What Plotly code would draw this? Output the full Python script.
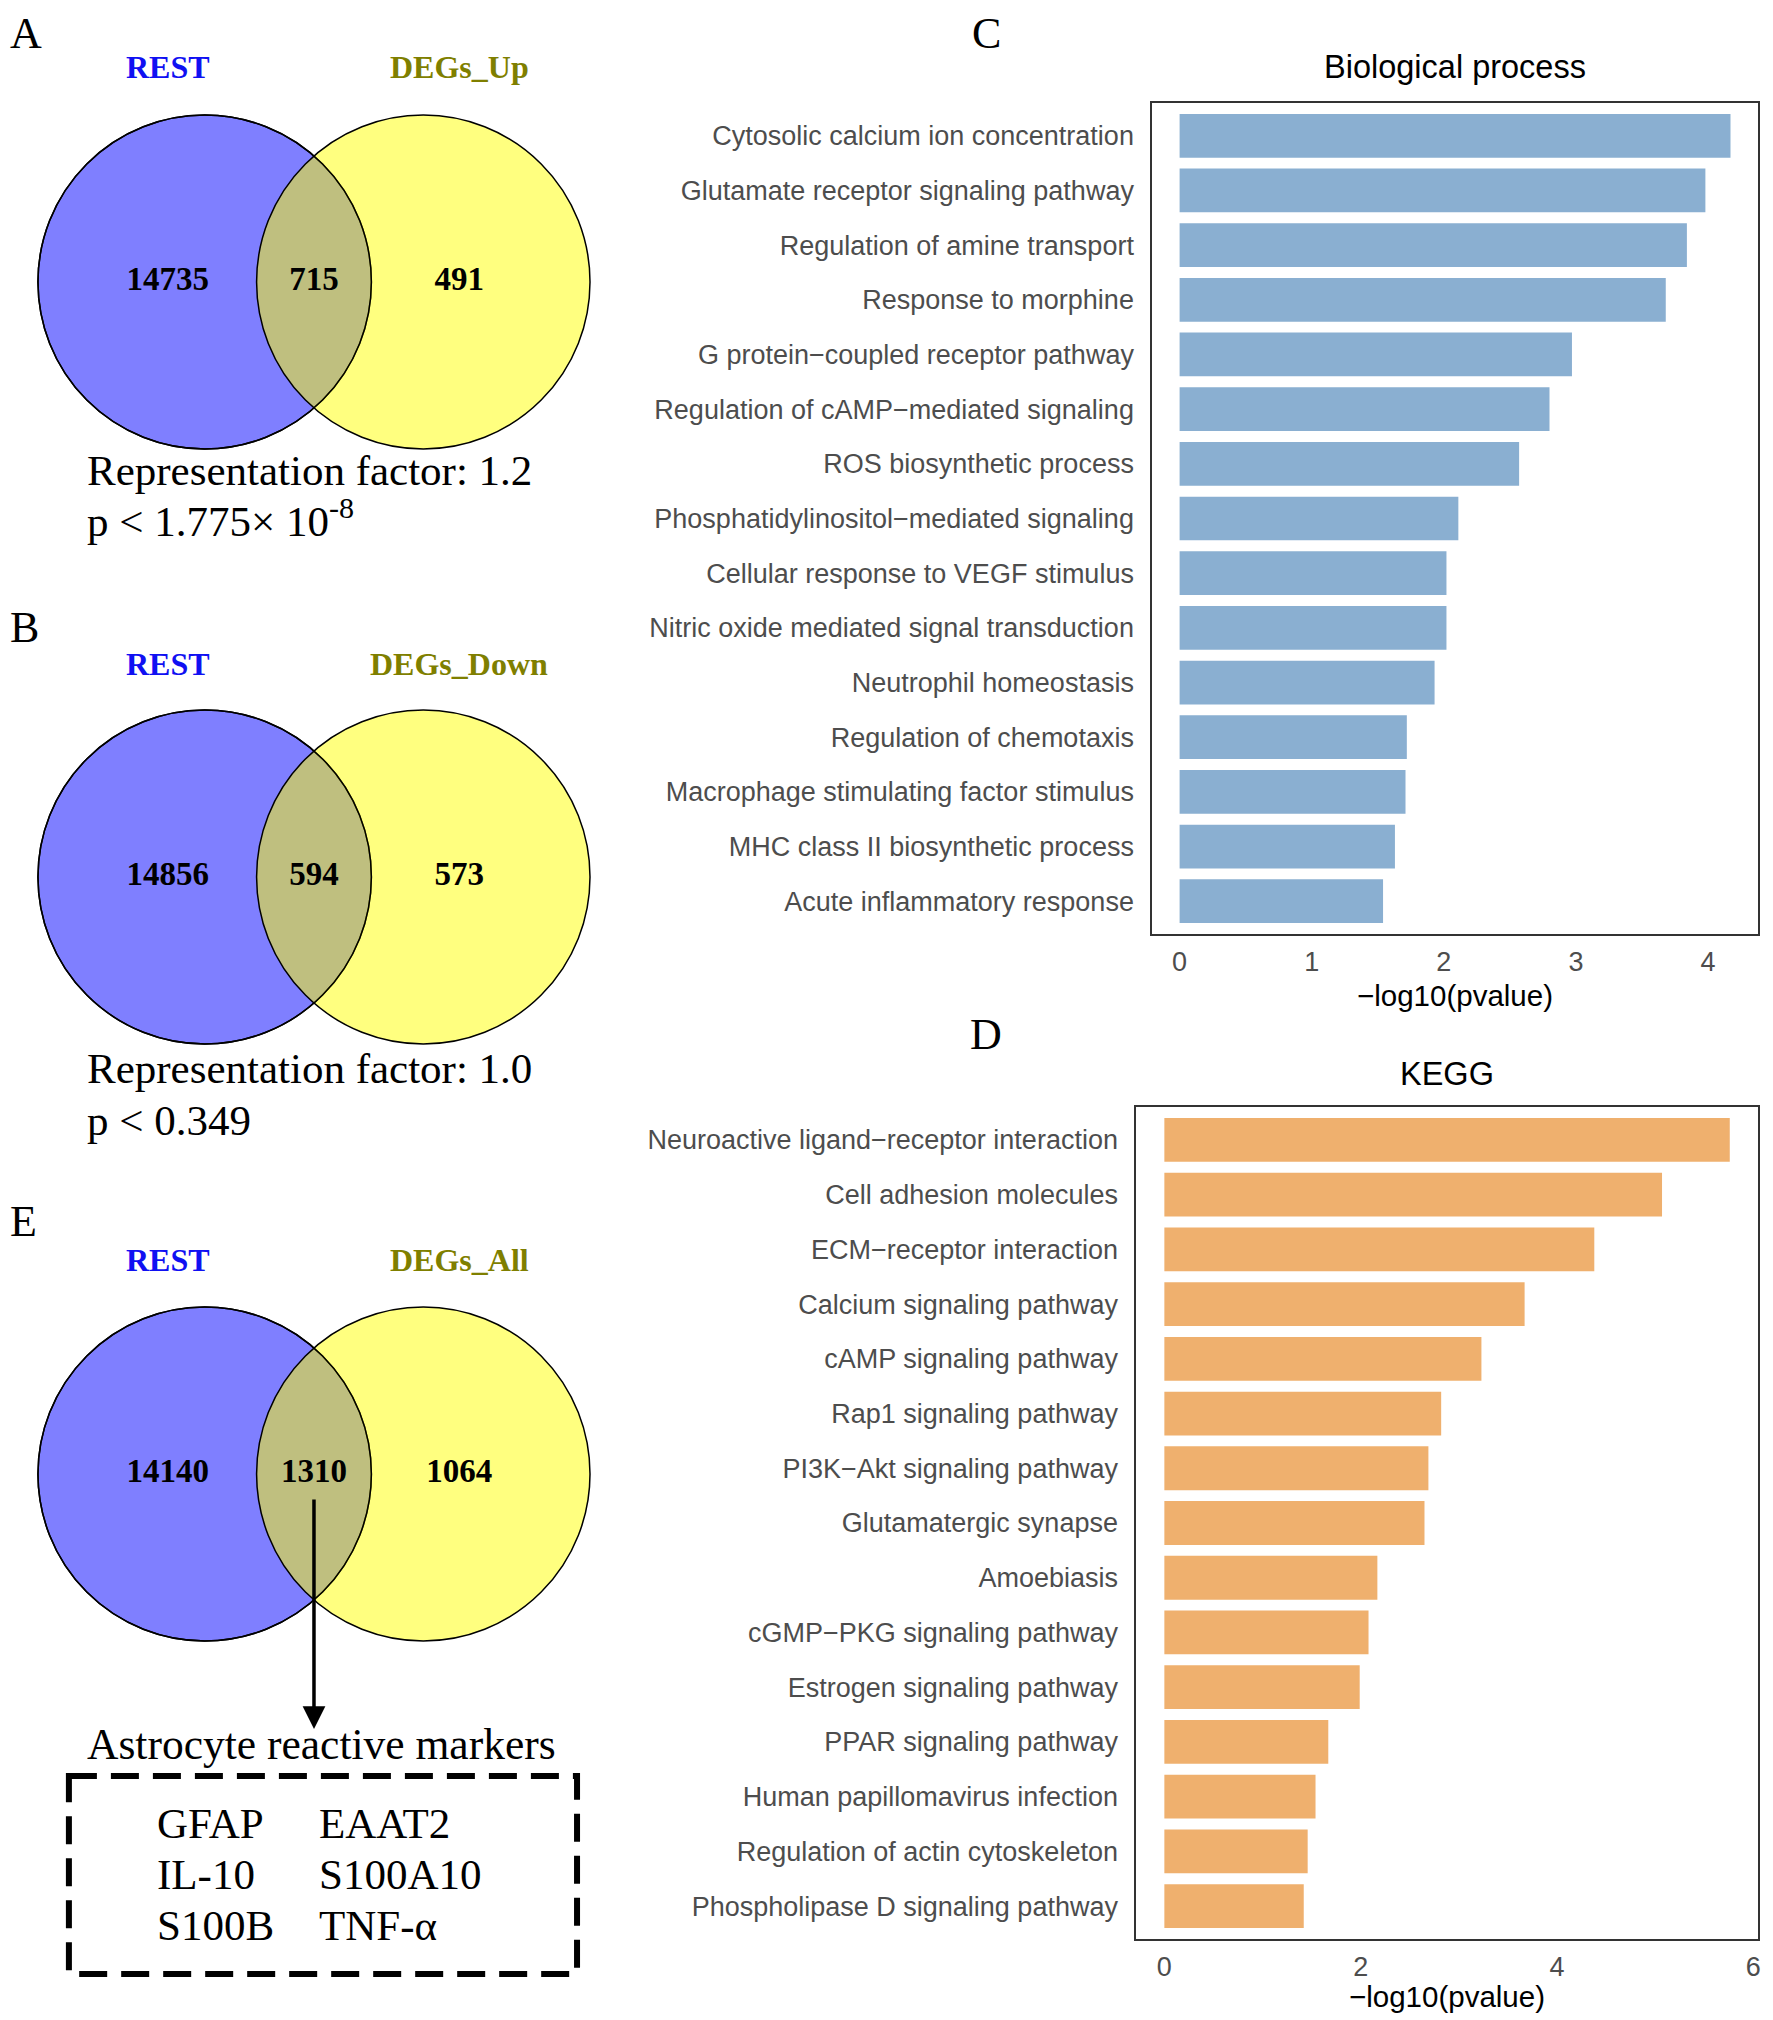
import plotly.graph_objects as go

W, H = 1773, 2020

# ---------------- data ----------------
bp_terms = [
    "Cytosolic calcium ion concentration",
    "Glutamate receptor signaling pathway",
    "Regulation of amine transport",
    "Response to morphine",
    "G protein\u2212coupled receptor pathway",
    "Regulation of cAMP\u2212mediated signaling",
    "ROS biosynthetic process",
    "Phosphatidylinositol\u2212mediated signaling",
    "Cellular response to VEGF stimulus",
    "Nitric oxide mediated signal transduction",
    "Neutrophil homeostasis",
    "Regulation of chemotaxis",
    "Macrophage stimulating factor stimulus",
    "MHC class II biosynthetic process",
    "Acute inflammatory response",
]
bp_values = [4.17, 3.98, 3.84, 3.68, 2.97, 2.80, 2.57, 2.11, 2.02, 2.02, 1.93, 1.72, 1.71, 1.63, 1.54]

kegg_terms = [
    "Neuroactive ligand\u2212receptor interaction",
    "Cell adhesion molecules",
    "ECM\u2212receptor interaction",
    "Calcium signaling pathway",
    "cAMP signaling pathway",
    "Rap1 signaling pathway",
    "PI3K\u2212Akt signaling pathway",
    "Glutamatergic synapse",
    "Amoebiasis",
    "cGMP\u2212PKG signaling pathway",
    "Estrogen signaling pathway",
    "PPAR signaling pathway",
    "Human papillomavirus infection",
    "Regulation of actin cytoskeleton",
    "Phospholipase D signaling pathway",
]
kegg_values = [5.76, 5.07, 4.38, 3.67, 3.23, 2.82, 2.69, 2.65, 2.17, 2.08, 1.99, 1.67, 1.54, 1.46, 1.42]

venn_letters = ["A", "B", "E"]
venn_left_names = ["REST", "REST", "REST"]
venn_right_names = ["DEGs_Up", "DEGs_Down", "DEGs_All"]
venn_left_only = [14735, 14856, 14140]
venn_overlap = [715, 594, 1310]
venn_right_only = [491, 573, 1064]
rep_factor_text = ["Representation factor: 1.2", "Representation factor: 1.0"]
p_value_text = ["p < 1.775\u00d7 10<sup>-8</sup>", "p < 0.349"]
markers_title = "Astrocyte reactive markers"
markers_col1 = ["GFAP", "IL-10", "S100B"]
markers_col2 = ["EAAT2", "S100A10", "TNF-\u03b1"]

# ---------------- style / layout ----------------
SERIF = "Liberation Serif, Times New Roman, serif"
SANS = "Liberation Sans, Arial, Helvetica, sans-serif"
BP_COLOR = "#8AAFD1"
KEGG_COLOR = "#EFB06E"
AXIS_LINE = "#333333"
TICK_COLOR = "#4D4D4D"


def px(x):
    return x / W


def py(y):
    return 1 - y / H


venn_cy = [274, 869, 1466]
venn_label_y = [59, 656, 1252]
venn_letter_y = [25, 619, 1213]
rep_y_off = [188, 191]
p_y_off = [236, 243]
cx_left, cx_right, radius = 197, 416, 167

fig = go.Figure()

# ---------------- bar panels ----------------
panels = [
    dict(terms=bp_terms, vals=bp_values, color=BP_COLOR, xa="x", ya="y",
         xdom=[px(1146), px(1753)], ydom=[py(926), py(95)], dtick=1,
         title="Biological process", title_y=59, xtitle_y=987, letter="C", letter_y=25),
    dict(terms=kegg_terms, vals=kegg_values, color=KEGG_COLOR, xa="x2", ya="y2",
         xdom=[px(1130), px(1753)], ydom=[py(1931), py(1099)], dtick=2,
         title="KEGG", title_y=1066, xtitle_y=1988, letter="D", letter_y=1026),
]

annotations = []
for i, p in enumerate(panels):
    fig.add_trace(go.Bar(
        x=p["vals"], y=p["terms"], orientation="h",
        marker=dict(color=p["color"], line=dict(width=0)),
        width=0.8, xaxis=p["xa"], yaxis=p["ya"], showlegend=False,
    ))
    vmax = max(p["vals"])
    n = len(p["terms"])
    sfx = "" if i == 0 else "2"
    fig.update_layout(**{
        "xaxis" + sfx: dict(
            domain=p["xdom"], range=[-0.05 * vmax, 1.05 * vmax], dtick=p["dtick"], tick0=0,
            showgrid=False, zeroline=False, showline=True, mirror=True,
            linecolor=AXIS_LINE, linewidth=1.5, ticks="outside", ticklen=3,
            tickcolor="rgba(0,0,0,0)", tickfont=dict(family=SANS, size=27, color=TICK_COLOR),
            anchor=p["ya"], fixedrange=True,
        ),
        "yaxis" + sfx: dict(
            domain=p["ydom"], type="category", categoryorder="array",
            categoryarray=p["terms"], range=[n - 0.4, -0.6],
            showgrid=False, zeroline=False, showline=True, mirror=True,
            linecolor=AXIS_LINE, linewidth=1.5, ticks="outside", ticklen=11,
            tickcolor="rgba(0,0,0,0)", tickfont=dict(family=SANS, size=27, color=TICK_COLOR),
            anchor=p["xa"], fixedrange=True,
        ),
    })
    xc = (p["xdom"][0] + p["xdom"][1]) / 2
    annotations.append(dict(text=p["title"], x=xc, y=py(p["title_y"]), xref="paper", yref="paper",
                            showarrow=False, font=dict(family=SANS, size=32.5, color="black"),
                            xanchor="center", yanchor="middle"))
    annotations.append(dict(text="\u2212log10(pvalue)", x=xc, y=py(p["xtitle_y"]), xref="paper",
                            yref="paper", showarrow=False,
                            font=dict(family=SANS, size=29.5, color="black"),
                            xanchor="center", yanchor="middle"))
    annotations.append(dict(text=p["letter"], x=px(980), y=py(p["letter_y"]), xref="paper",
                            yref="paper", showarrow=False,
                            font=dict(family=SERIF, size=44, color="black"),
                            xanchor="center", yanchor="middle"))

# ---------------- Venn diagrams (pixel-space axis) ----------------
fig.update_layout(
    xaxis3=dict(domain=[0, 1], range=[0, W], visible=False, fixedrange=True, anchor="y3"),
    yaxis3=dict(domain=[0, 1], range=[H, 0], visible=False, fixedrange=True, anchor="x3"),
)

shapes = []
num_x, num_y, num_t = [], [], []
for k in range(len(venn_letters)):
    cy = venn_cy[k]
    shapes.append(dict(type="circle", xref="x3", yref="y3", layer="below",
                       x0=cx_left - radius, x1=cx_left + radius, y0=cy - radius, y1=cy + radius,
                       fillcolor="rgba(0,0,255,0.5)", line=dict(color="black", width=1.5)))
    shapes.append(dict(type="circle", xref="x3", yref="y3", layer="below",
                       x0=cx_right - radius, x1=cx_right + radius, y0=cy - radius, y1=cy + radius,
                       fillcolor="rgba(255,255,0,0.5)", line=dict(color="black", width=1.5)))
    shapes.append(dict(type="circle", xref="x3", yref="y3", layer="below",
                       x0=cx_left - radius, x1=cx_left + radius, y0=cy - radius, y1=cy + radius,
                       fillcolor="rgba(0,0,0,0)", line=dict(color="black", width=1.5)))
    mid = (cx_left + cx_right) / 2
    num_x += [cx_left - 37, mid, cx_right + 36]
    num_y += [cy, cy, cy]
    num_t += [str(venn_left_only[k]), str(venn_overlap[k]), str(venn_right_only[k])]

    annotations.append(dict(text="<b>%s</b>" % venn_left_names[k], x=cx_left - 37, y=venn_label_y[k],
                            xref="x3", yref="y3", showarrow=False,
                            font=dict(family=SERIF, size=32, color="#1010F2"),
                            xanchor="center", yanchor="middle"))
    annotations.append(dict(text="<b>%s</b>" % venn_right_names[k], x=cx_right + 36, y=venn_label_y[k],
                            xref="x3", yref="y3", showarrow=False,
                            font=dict(family=SERIF, size=32, color="#7F7F00"),
                            xanchor="center", yanchor="middle"))
    annotations.append(dict(text=venn_letters[k], x=0, y=venn_letter_y[k], xref="x3", yref="y3",
                            showarrow=False, font=dict(family=SERIF, size=44, color="black"),
                            xanchor="left", yanchor="middle"))

fig.add_trace(go.Scatter(x=num_x, y=num_y, text=["<b>%s</b>" % t for t in num_t], mode="text",
                         textfont=dict(family=SERIF, size=33, color="black"),
                         textposition="middle center", xaxis="x3", yaxis="y3",
                         showlegend=False, hoverinfo="skip"))

for k in range(len(rep_factor_text)):
    cy = venn_cy[k]
    annotations.append(dict(text=rep_factor_text[k], x=77, y=cy + rep_y_off[k], xref="x3", yref="y3",
                            showarrow=False, font=dict(family=SERIF, size=43, color="black"),
                            xanchor="left", yanchor="middle"))
    annotations.append(dict(text=p_value_text[k], x=77, y=cy + p_y_off[k], xref="x3", yref="y3",
                            showarrow=False, font=dict(family=SERIF, size=43, color="black"),
                            xanchor="left", yanchor="middle"))

# arrow from overlap of panel E down to marker list
mid = (cx_left + cx_right) / 2
annotations.append(dict(x=mid, y=1721, ax=mid, ay=1490, xref="x3", yref="y3", axref="x3", ayref="y3",
                        text="", showarrow=True, arrowhead=2, arrowsize=1.3, arrowwidth=3.5,
                        arrowcolor="black"))
annotations.append(dict(text=markers_title, x=314, y=1736, xref="x3", yref="y3", showarrow=False,
                        font=dict(family=SERIF, size=43.5, color="black"),
                        xanchor="center", yanchor="middle"))
shapes.append(dict(type="rect", xref="x3", yref="y3", x0=61, x1=570, y0=1768, y1=1966,
                   line=dict(color="black", width=6, dash="28px,14px"),
                   fillcolor="rgba(0,0,0,0)"))
row_y = [1815, 1866, 1917]
for j in range(len(markers_col1)):
    annotations.append(dict(text=markers_col1[j], x=147, y=row_y[j], xref="x3", yref="y3",
                            showarrow=False, font=dict(family=SERIF, size=43, color="black"),
                            xanchor="left", yanchor="middle"))
    annotations.append(dict(text=markers_col2[j], x=310, y=row_y[j], xref="x3", yref="y3",
                            showarrow=False, font=dict(family=SERIF, size=43, color="black"),
                            xanchor="left", yanchor="middle"))

fig.update_layout(
    width=W, height=H, margin=dict(l=0, r=0, t=0, b=0),
    paper_bgcolor="white", plot_bgcolor="rgba(0,0,0,0)",
    shapes=shapes, annotations=annotations, bargap=0.2,
)

fig.write_html("out.html")
